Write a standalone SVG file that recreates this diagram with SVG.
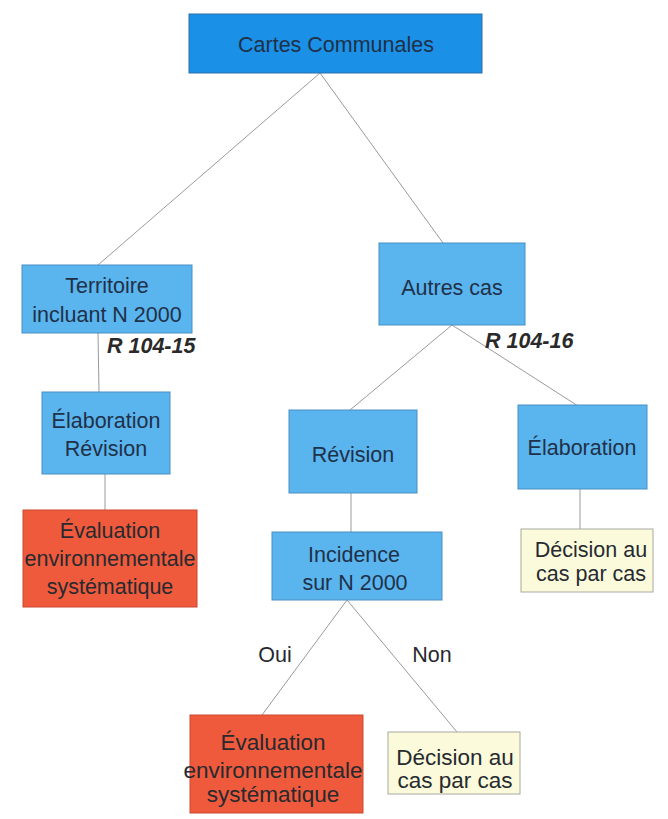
<svg xmlns="http://www.w3.org/2000/svg" width="668" height="819" viewBox="0 0 668 819">
<style>
text{font-family:"Liberation Sans",Arial,sans-serif;font-size:21.5px;text-anchor:middle;fill:#262a30}
.top{fill:#1a90e6;stroke:#2c6fa8;stroke-width:1}
.blue{fill:#5ab4ee;stroke:#4a8fc4;stroke-width:1}
.red{fill:#f05a3c;stroke:#c9482e;stroke-width:1}
.yel{fill:#fbfbdc;stroke:#a8a8a0;stroke-width:1}
.bt{fill:#1f3148}
.lbl{font-weight:bold;font-style:italic;text-anchor:start;fill:#2a2a2a}
.big{font-size:22.5px}
#connectors line{stroke:#9a9a9a;stroke-width:1}
</style>
<rect width="668" height="819" fill="#ffffff"/>
<g id="connectors">
<line x1="320" y1="73" x2="98" y2="265"/>
<line x1="320" y1="73" x2="443" y2="243"/>
<line x1="98" y1="333" x2="99" y2="392"/>
<line x1="105" y1="474" x2="105" y2="510"/>
<line x1="452" y1="325" x2="350" y2="410"/>
<line x1="452" y1="325" x2="578" y2="406"/>
<line x1="351" y1="493" x2="351" y2="532"/>
<line x1="580" y1="489" x2="580" y2="529"/>
<line x1="347" y1="600" x2="262" y2="715"/>
<line x1="347" y1="600" x2="457" y2="732"/>
</g>
<g id="cartes">
<rect class="top" x="189" y="14" width="293" height="59"/>
<text class="bt" x="336" y="52" font-size="22">Cartes Communales</text>
</g>
<g id="territoire">
<rect class="blue" x="22" y="265" width="170" height="68"/>
<text class="bt" x="107" y="293">Territoire</text>
<text class="bt" x="107" y="322">incluant N 2000</text>
</g>
<g id="label-r10415"><text class="lbl" x="107" y="353">R 104-15</text></g>
<g id="autres">
<rect class="blue" x="379" y="243" width="146" height="82"/>
<text class="bt" x="452" y="295">Autres cas</text>
</g>
<g id="label-r10416"><text class="lbl" x="485" y="348">R 104-16</text></g>
<g id="elab-rev">
<rect class="blue" x="42" y="392" width="128" height="82"/>
<text class="bt" x="106" y="428">Élaboration</text>
<text class="bt" x="106" y="456">Révision</text>
</g>
<g id="eval1">
<rect class="red" x="23" y="510" width="174" height="97"/>
<text x="110" y="538">Évaluation</text>
<text x="110" y="566">environnementale</text>
<text x="110" y="594">systématique</text>
</g>
<g id="revision">
<rect class="blue" x="289" y="410" width="128" height="83"/>
<text class="bt" x="353" y="462">Révision</text>
</g>
<g id="incidence">
<rect class="blue" x="272" y="532" width="170" height="68"/>
<text class="bt" x="354" y="562">Incidence</text>
<text class="bt" x="355" y="590">sur N 2000</text>
</g>
<g id="elaboration">
<rect class="blue" x="518" y="405" width="129" height="84"/>
<text class="bt" x="582" y="455">Élaboration</text>
</g>
<g id="decision1">
<rect class="yel" x="521" y="529" width="132" height="63"/>
<text x="591" y="557">Décision au</text>
<text x="591" y="581">cas par cas</text>
</g>
<g id="label-oui"><text x="275" y="662">Oui</text></g>
<g id="label-non"><text x="432" y="662">Non</text></g>
<g id="eval2">
<rect class="red" x="190" y="715" width="173" height="98"/>
<text class="big" x="273" y="750">Évaluation</text>
<text class="big" x="273" y="778">environnementale</text>
<text class="big" x="273" y="802">systématique</text>
</g>
<g id="decision2">
<rect class="yel" x="388" y="732" width="132" height="62"/>
<text class="big" x="455" y="765">Décision au</text>
<text class="big" x="455" y="788">cas par cas</text>
</g>
</svg>
